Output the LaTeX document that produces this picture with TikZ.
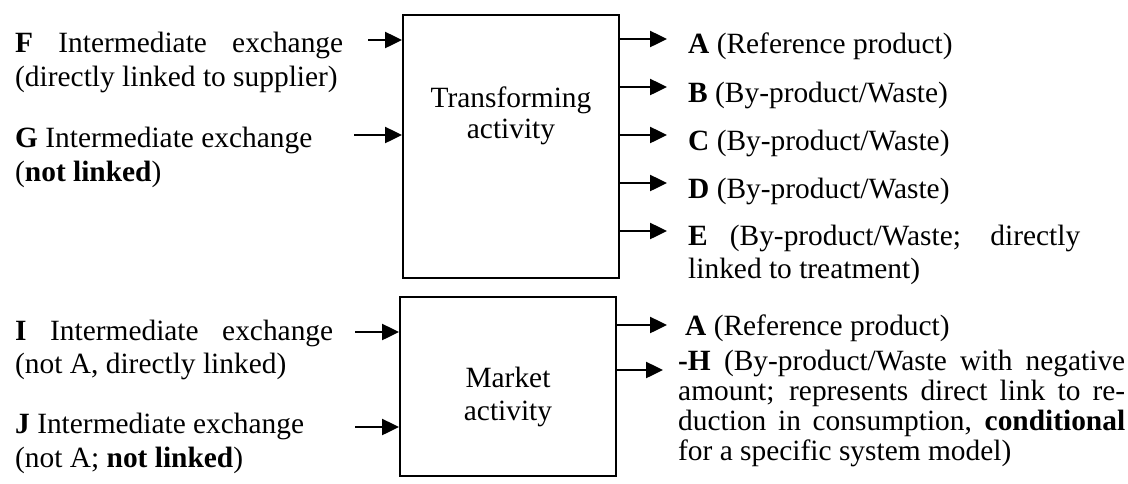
\documentclass[tikz,border=0pt]{standalone}
\usepackage{fontspec}
\setmainfont{Liberation Serif}
\usetikzlibrary{arrows.meta}
\newcommand{\jl}[2]{\makebox[#1][s]{#2}}
\begin{document}
\begin{tikzpicture}[x=1pt,y=-1pt,
  txt/.style={anchor=base west, inner sep=0pt, font=\fontsize{29.4}{34}\selectfont},
  flow/.style={line width=2.5pt, -{Triangle[length=17pt,width=16pt]}},
  actbox/.style={draw, line width=2pt, inner sep=0pt}]
\useasboundingbox (0,0) rectangle (1128,483);

% boxes
\node[actbox, minimum width=216pt, minimum height=263pt] (tbox) at (511,146.5) {};
\node[txt, anchor=base] (tlab) at (511,107) {\parbox[t]{200pt}{\centering\fontsize{29.4}{31}\selectfont Transforming\\ activity}};
\node[actbox, minimum width=216pt, minimum height=179pt] (mbox) at (508,386.5) {};
\node[txt, anchor=base] (mlab) at (508,387) {\parbox[t]{200pt}{\centering\fontsize{29.4}{33}\selectfont Market\\ activity}};

% left texts
\node[txt] (ftext) at (15,52) {\parbox[t]{340pt}{\jl{328pt}{\textbf{F} Intermediate exchange}\\ (directly linked to supplier)}};
\node[txt] (gtext) at (15,147) {\parbox[t]{340pt}{\textbf{G} Intermediate exchange\\ (\textbf{not linked})}};
\node[txt] (itext) at (15,340) {\parbox[t]{340pt}{\fontsize{29.4}{33}\selectfont\jl{318pt}{\textbf{I} Intermediate exchange}\\ (not A, directly linked)}};
\node[txt] (jtext) at (15,433) {\parbox[t]{340pt}{\textbf{J} Intermediate exchange\\ (not A; \textbf{not linked})}};

% right texts (transforming)
\node[txt] (atext) at (688,53) {\textbf{A} (Reference product)};
\node[txt] (btext) at (688,102) {\textbf{B} (By-product/Waste)};
\node[txt] (ctext) at (688,150) {\textbf{C} (By-product/Waste)};
\node[txt] (dtext) at (688,198) {\textbf{D} (By-product/Waste)};
\node[txt] (etext) at (688,245) {\parbox[t]{420pt}{\fontsize{29.4}{33}\selectfont\jl{392pt}{\textbf{E} (By-product/Waste; directly}\\ linked to treatment)}};

% right texts (market)
\node[txt] (matext) at (685,335) {\textbf{A} (Reference product)};
\node[txt] (htext) at (678,370) {\parbox[t]{450pt}{\fontsize{29.4}{30}\selectfont
  \jl{447pt}{\textbf{-H} (By-product/Waste with negative}\\
  \jl{447pt}{amount; represents direct link to re-}\\
  \jl{447pt}{duction in consumption, \textbf{conditional}}\\
  for a specific system model)}};

% input arrows
\coordinate (fin) at (368,40);
\coordinate (gin) at (354,135);
\coordinate (iin) at (355,332);
\coordinate (jin) at (355,427);
\draw[flow] (fin) -- (fin -| tbox.west);
\draw[flow] (gin) -- (gin -| tbox.west);
\draw[flow] (iin) -- (iin -| mbox.west);
\draw[flow] (jin) -- (jin -| mbox.west);

% output arrows
\coordinate (oa) at (667,39);
\coordinate (ob) at (667,87);
\coordinate (oc) at (667,135);
\coordinate (od) at (667,183);
\coordinate (oe) at (667,231);
\coordinate (ma) at (667,325);
\coordinate (mh) at (663,370);
\foreach \p in {oa,ob,oc,od,oe}{\draw[flow] (\p -| tbox.east) -- (\p);}
\draw[flow] (ma -| mbox.east) -- (ma);
\draw[flow] (mh -| mbox.east) -- (mh);
\end{tikzpicture}
\end{document}
